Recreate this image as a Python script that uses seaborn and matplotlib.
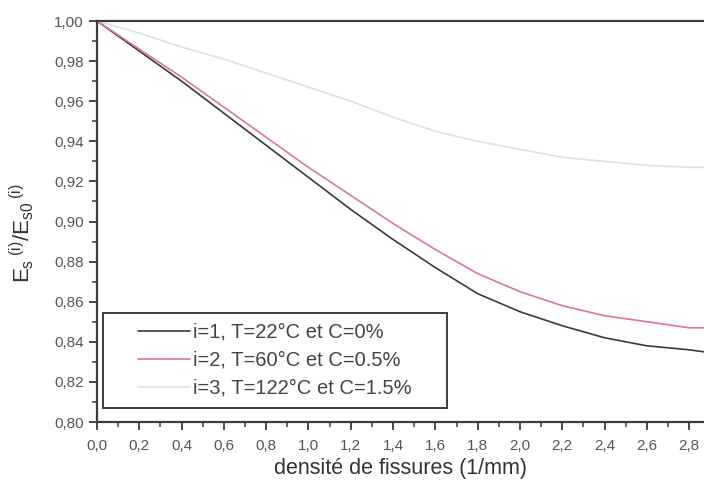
import numpy as np
import pandas as pd
import matplotlib
matplotlib.use("Agg")
import matplotlib.pyplot as plt
from matplotlib.ticker import MultipleLocator, FuncFormatter
from matplotlib.legend_handler import HandlerLine2D
import seaborn as sns

# crack density (1/mm)
density = [0.0, 0.2, 0.4, 0.6, 0.8, 1.0, 1.2, 1.4, 1.6, 1.8, 2.0, 2.2, 2.4, 2.6, 2.8, 2.87]

# normalised modulus E_s/E_s0 for each ageing condition
ratio_i1 = [1.000, 0.985, 0.970, 0.954, 0.938, 0.922, 0.906, 0.891, 0.877, 0.864,
            0.855, 0.848, 0.842, 0.838, 0.836, 0.835]
ratio_i2 = [1.000, 0.986, 0.972, 0.957, 0.942, 0.927, 0.913, 0.899, 0.886, 0.874,
            0.865, 0.858, 0.853, 0.850, 0.847, 0.847]
ratio_i3 = [1.000, 0.994, 0.987, 0.981, 0.974, 0.967, 0.960, 0.952, 0.945, 0.940,
            0.936, 0.932, 0.930, 0.928, 0.927, 0.927]

labels = ["i=1, T=22°C et C=0%", "i=2, T=60°C et C=0.5%", "i=3, T=122°C et C=1.5%"]
colors = ["#3a3a3a", "#e07888", "#d6e6da"]

df = pd.concat([
    pd.DataFrame({"densite": density, "ratio": vals, "serie": lab})
    for vals, lab in zip([ratio_i1, ratio_i2, ratio_i3], labels)
])


class RightLine(HandlerLine2D):
    """Legend line drawn only in the right part of the handle box."""
    def get_xdata(self, legend, xdescent, ydescent, width, height, fontsize):
        xd = np.array([-xdescent + 0.32 * width, -xdescent + width])
        return xd, xd


sns.set_theme(style="ticks")
plt.rcParams["font.family"] = ["Liberation Sans", "DejaVu Sans"]
plt.rcParams["mathtext.fontset"] = "custom"
plt.rcParams["mathtext.rm"] = "Liberation Sans"
plt.rcParams["mathtext.it"] = "Liberation Sans"

W, H = 704, 486
fig = plt.figure(figsize=(W / 100, H / 100), dpi=100)
ax = fig.add_axes([97 / W, (H - 422) / H, (704 - 97) / W, (422 - 21) / H])

sns.lineplot(data=df, x="densite", y="ratio", hue="serie", hue_order=labels,
             palette=colors, linewidth=1.2, ax=ax, legend=True)

ax.set_xlim(0, 2.87)
ax.set_ylim(0.80, 1.00)
ax.xaxis.set_major_locator(MultipleLocator(0.2))
ax.xaxis.set_minor_locator(MultipleLocator(0.1))
ax.yaxis.set_major_locator(MultipleLocator(0.02))
ax.yaxis.set_minor_locator(MultipleLocator(0.01))
ax.xaxis.set_major_formatter(FuncFormatter(lambda v, p: f"{v:.1f}".replace(".", ",")))
ax.yaxis.set_major_formatter(FuncFormatter(lambda v, p: f"{v:.2f}".replace(".", ",")))

spine_c = "#3c3c3c"
for side in ["left", "bottom", "top"]:
    ax.spines[side].set_visible(True)
    ax.spines[side].set_color(spine_c)
    ax.spines[side].set_linewidth(1.6)
ax.spines["right"].set_visible(False)

ax.tick_params(which="major", direction="out", length=6, width=1.3, color=spine_c,
               labelsize=11, labelcolor="#555555", top=False, right=False)
ax.tick_params(axis="x", which="major", pad=6)
ax.tick_params(which="minor", direction="out", length=3.5, width=1.1, color=spine_c,
               top=False, right=False)

ax.set_xlabel("densité de fissures (1/mm)", fontsize=15.5, color="#333333", labelpad=4)
ax.set_ylabel(r"$E_{s}{}^{\ (i)}/E_{s0}{}^{\ (i)}$", fontsize=16, color="#333333")
ax.yaxis.set_label_coords(-0.1, 0.47)

leg = ax.legend(loc="lower left",
                bbox_to_anchor=(103 / W, (H - 408) / H, (447 - 103) / W, 0.1),
                bbox_transform=fig.transFigure, mode="expand", borderaxespad=0,
                frameon=True, fancybox=False, fontsize=14.5, handlelength=3.8,
                handletextpad=0.15, labelspacing=0.45, borderpad=0.5, title=None,
                handler_map={plt.Line2D: RightLine()})
leg.get_frame().set_edgecolor("#3c3c3c")
leg.get_frame().set_linewidth(1.4)
leg.get_frame().set_facecolor("white")
leg.get_frame().set_alpha(1)
for t in leg.get_texts():
    t.set_color("#444444")
for h in leg.get_lines():
    h.set_linewidth(1.2)

fig.savefig("out.png", dpi=100, facecolor="white")
